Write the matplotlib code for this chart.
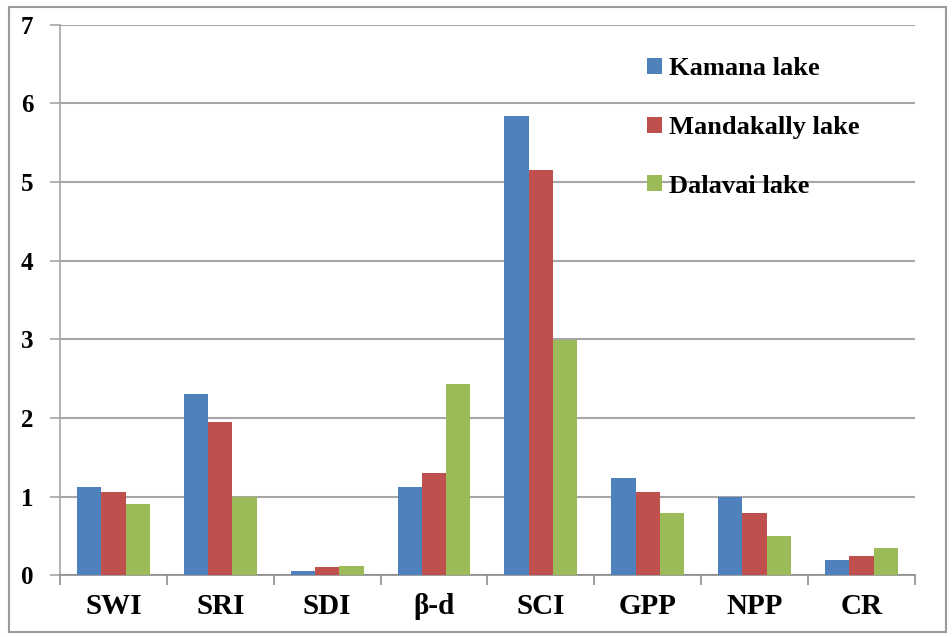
import numpy as np
import matplotlib.pyplot as plt
from matplotlib.patches import Rectangle

categories = ["SWI", "SRI", "SDI", "\u03b2-d", "SCI", "GPP", "NPP", "CR"]
kamana = [1.12, 2.30, 0.05, 1.12, 5.84, 1.24, 1.00, 0.19]
mandakally = [1.06, 1.95, 0.10, 1.30, 5.16, 1.06, 0.79, 0.25]
dalavai = [0.91, 1.00, 0.12, 2.43, 2.99, 0.79, 0.50, 0.35]
series_names = ["Kamana lake", "Mandakally lake", "Dalavai lake"]
colors = ["#4F81BD", "#C0504D", "#9BBB59"]

plt.rcParams['font.family'] = ['Liberation Serif', 'DejaVu Serif']

fig = plt.figure(figsize=(9.52, 6.37), dpi=100)
ax = fig.add_axes([0.063, 0.097, 0.898, 0.864])

x = np.arange(len(categories))
w = 0.227
for i, (vals, name) in enumerate(zip([kamana, mandakally, dalavai], series_names)):
    ax.bar(x + (i - 1) * w, vals, width=w, color=colors[i], label=name, zorder=3)

ax.set_xlim(-0.5, len(categories) - 0.5)
ax.set_ylim(0, 7)
ax.set_yticks(range(8))
ax.set_yticklabels([str(v) for v in range(8)], fontsize=18, fontweight='bold')
ax.yaxis.grid(True, color='#a6a6a6', linewidth=1.5)
ax.set_axisbelow(True)
ax.tick_params(axis='y', length=7, width=1.2, color='#a6a6a6', pad=12)

ax.set_xticks(x)
ax.set_xticklabels(categories, fontsize=21, fontweight='bold')
ax.set_xticks(np.arange(-0.5, len(categories)), minor=True)
ax.tick_params(axis='x', which='major', length=0, pad=13)
ax.tick_params(axis='x', which='minor', length=7, width=1.2, color='#8c8c8c')

for s in ['top', 'right']:
    ax.spines[s].set_visible(False)
ax.spines['left'].set_color('#a6a6a6')
ax.spines['bottom'].set_color('#8c8c8c')
ax.spines['left'].set_linewidth(1.2)
ax.spines['bottom'].set_linewidth(1.2)

leg = ax.legend(loc='upper left', bbox_to_anchor=(0.659, 0.984), frameon=False,
                prop={'size': 19, 'weight': 'bold'}, handlelength=0.55,
                handleheight=0.55, handletextpad=0.27, labelspacing=1.35)

fig.patches.append(Rectangle((0.009, 0.008), 0.985, 0.981, transform=fig.transFigure,
                             fill=False, edgecolor='#9a9a9a', linewidth=1.5))

fig.savefig("out.png", dpi=100)
